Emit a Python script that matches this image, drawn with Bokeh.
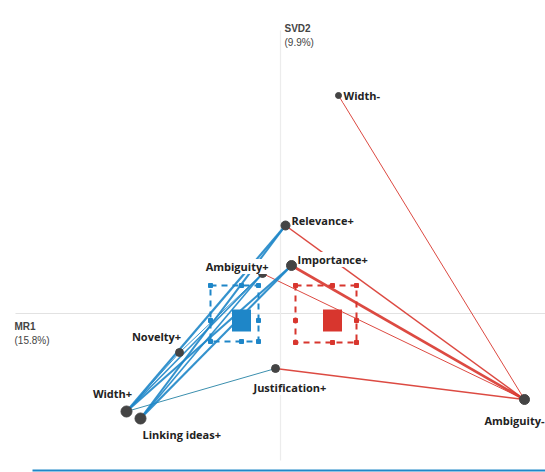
from bokeh.plotting import figure
from bokeh.models import ColumnDataSource, LabelSet, Label, Range1d
from bokeh.core.properties import value
from bokeh.embed import file_html
from bokeh.resources import INLINE

# ---- data (biplot coordinates) ----
names = ["Width-", "Relevance+", "Importance+", "Ambiguity+", "Novelty+",
         "Width+", "Linking ideas+", "Justification+", "Ambiguity-"]
xs = [0.58, 0.05, 0.11, -0.18, -1.01, -1.54, -1.40, -0.05, 2.44]
ys = [2.18, 0.88, 0.48, 0.40, -0.39, -0.98, -1.05, -0.55, -0.86]

blue_from = ["Width+", "Linking ideas+", "Width+", "Linking ideas+", "Width+",
             "Linking ideas+", "Novelty+", "Width+"]
blue_to = ["Relevance+", "Relevance+", "Importance+", "Importance+", "Ambiguity+",
           "Ambiguity+", "Ambiguity+", "Novelty+"]
teal_from = ["Width+"]
teal_to = ["Justification+"]
red_from = ["Width-", "Relevance+", "Importance+", "Ambiguity+", "Justification+"]
red_to = ["Ambiguity-", "Ambiguity-", "Ambiguity-", "Ambiguity-", "Ambiguity-"]

blue_center = (-0.39, -0.07)
blue_box_x = (-0.70, -0.22)
blue_box_y = (-0.28, 0.28)
red_center = (0.52, -0.07)
red_box_x = (0.15, 0.76)
red_box_y = (-0.29, 0.28)

axis_x_title = ["MR1", "(15.8%)"]
axis_y_title = ["SVD2", "(9.9%)"]

# ---- styles ----
BLUE = "#1e86c8"
RED = "#d8362e"
TEAL = "#3b8fae"
PT = "#444444"
blue_widths = [2.2, 2.0, 2.0, 2.2, 1.6, 1.6, 1.0, 1.0]
red_widths = [1.0, 1.5, 2.6, 1.0, 1.5]
pt_sizes = [6, 9, 10, 8, 8, 11, 11, 8, 10]
lab_dx = [5, 6, 6, 6, -23, -14, 2, -22, 20]
lab_dy = [0, 5, 6, 7, 16, 18, -16, -19, -21]
lab_align = ["left", "left", "left", "right", "center", "center", "left", "left", "right"]

pos = dict(zip(names, zip(xs, ys)))

W, H = 545, 472
p = figure(width=W, height=H, output_backend="svg", toolbar_location=None,
           x_range=Range1d(-2.80, 2.65), y_range=Range1d(-1.59, 3.13),
           min_border=0)
p.axis.visible = False
p.grid.visible = False
p.outline_line_color = None
p.background_fill_color = "white"

# axis cross lines
p.segment(x0=[-2.65], y0=[0], x1=[2.65], y1=[0], line_color="#e2e2e2", line_width=1.2)
p.segment(x0=[0], y0=[2.83], x1=[0], y1=[-1.47], line_color="#ececec", line_width=1.2)

def seg(fr, to):
    return dict(x0=[pos[a][0] for a in fr], y0=[pos[a][1] for a in fr],
                x1=[pos[b][0] for b in to], y1=[pos[b][1] for b in to])

p.segment(source=ColumnDataSource(dict(**seg(red_from, red_to), w=red_widths)),
          x0="x0", y0="y0", x1="x1", y1="y1", line_color=RED, line_width="w", line_alpha=0.9)
p.segment(source=ColumnDataSource(dict(**seg(teal_from, teal_to), w=[1.0])),
          x0="x0", y0="y0", x1="x1", y1="y1", line_color=TEAL, line_width="w")
p.segment(source=ColumnDataSource(dict(**seg(blue_from, blue_to), w=blue_widths)),
          x0="x0", y0="y0", x1="x1", y1="y1", line_color=BLUE, line_width="w", line_alpha=0.9)

# centroid boxes
for c, bx, by, col in [(blue_center, blue_box_x, blue_box_y, BLUE),
                       (red_center, red_box_x, red_box_y, RED)]:
    p.quad(left=[bx[0]], right=[bx[1]], bottom=[by[0]], top=[by[1]],
           fill_color=None, line_color=col, line_width=2, line_dash="6 5")
    mx = [bx[0], c[0], bx[1]]
    my = [by[0], c[1], by[1]]
    kx, ky = [], []
    for a in mx:
        for b in my:
            if not (a == c[0] and b == c[1]):
                kx.append(a); ky.append(b)
    p.scatter(kx, ky, marker="square", size=4, fill_color=col, line_color=col)
    p.rect(x=[c[0]], y=[c[1]], width=19, height=22, width_units="screen",
           height_units="screen", fill_color=col, line_color=None)

# points
src = ColumnDataSource(dict(x=xs, y=ys, name=names, s=pt_sizes, dx=lab_dx, dy=lab_dy, al=lab_align))
p.scatter("x", "y", size="s", source=src, fill_color=PT, line_color=PT)

labels = LabelSet(x="x", y="y", text="name", x_offset="dx", y_offset="dy", text_align="al",
                  text_baseline="middle", source=src, text_font=value("Open Sans"),
                  text_font_size="11px", text_font_style="bold", text_color="#222222",
                  background_fill_color="white", background_fill_alpha=1.0)
p.add_layout(labels)

# axis titles
for i, t in enumerate(axis_y_title):
    p.add_layout(Label(x=0.04, y=2.85 - i * 0.14, text=t, text_font="Liberation Sans",
                       text_font_size="10px", text_color="#444444",
                       text_font_style="bold" if i == 0 else "normal",
                       text_baseline="middle"))
for i, t in enumerate(axis_x_title):
    p.add_layout(Label(x=-2.66, y=-0.13 - i * 0.14, text=t, text_font="Liberation Sans",
                       text_font_size="10px", text_color="#444444",
                       text_font_style="bold" if i == 0 else "normal",
                       text_baseline="middle"))

# bottom rule
p.segment(x0=[-2.48], y0=[-1.57], x1=[2.65], y1=[-1.57], line_color="#1e88c8", line_width=2)

open("out.html", "w").write(file_html(p, INLINE))
